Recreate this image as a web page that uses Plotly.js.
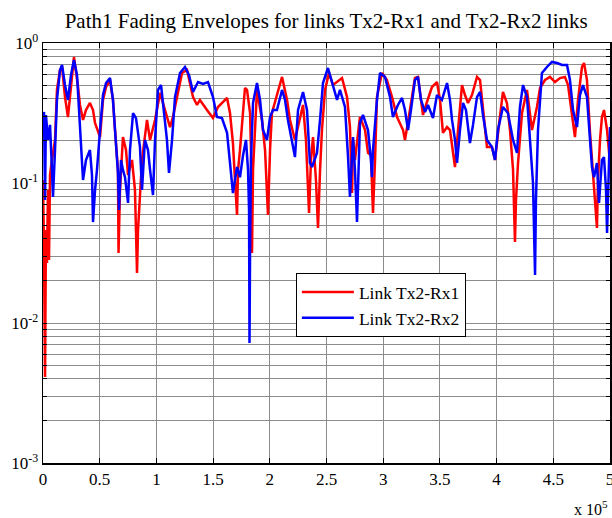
<!DOCTYPE html>
<html>
<head>
<meta charset="utf-8">
<script src="https://cdn.plot.ly/plotly-3.0.1.min.js"></script>
<style>html,body{margin:0;padding:0;background:#fff;}#chart{width:612px;height:518px;}</style>
</head>
<body>
<div id="chart"></div>
<script>
// x in units of 10^5 samples
const blueX = [0,0.009,0.018,0.026,0.044,0.062,0.079,0.088,0.106,0.123,0.150,0.168,0.194,0.220,0.247,0.273,0.300,0.326,0.353,0.379,0.414,0.432,0.441,0.459,0.476,0.503,0.529,0.556,0.591,0.617,0.635,0.661,0.670,0.688,0.705,0.723,0.750,0.767,0.794,0.820,0.855,0.873,0.899,0.926,0.944,0.970,0.988,1.014,1.041,1.067,1.093,1.111,1.138,1.164,1.208,1.252,1.287,1.323,1.367,1.411,1.455,1.499,1.534,1.578,1.623,1.649,1.675,1.693,1.711,1.737,1.764,1.790,1.808,1.817,1.821,1.826,1.834,1.852,1.887,1.914,1.940,1.975,2.002,2.028,2.063,2.108,2.134,2.160,2.196,2.222,2.249,2.293,2.328,2.354,2.372,2.416,2.443,2.469,2.513,2.557,2.593,2.619,2.663,2.690,2.707,2.734,2.751,2.769,2.787,2.795,2.822,2.866,2.892,2.901,2.910,2.945,2.972,3.016,3.060,3.086,3.130,3.166,3.192,3.219,3.245,3.280,3.307,3.333,3.369,3.395,3.439,3.474,3.518,3.563,3.589,3.607,3.633,3.651,3.677,3.704,3.730,3.765,3.792,3.827,3.854,3.880,3.915,3.959,3.986,4.012,4.056,4.100,4.145,4.180,4.206,4.233,4.268,4.294,4.321,4.339,4.347,4.365,4.383,4.400,4.444,4.488,4.533,4.577,4.621,4.647,4.674,4.709,4.735,4.762,4.797,4.824,4.841,4.859,4.885,4.903,4.912,4.929,4.947,4.965,4.974,4.982,5.000];
const blueY = [0.260,0.322,0.0756,0.306,0.203,0.260,0.124,0.0794,0.172,0.392,0.641,0.697,0.501,0.392,0.591,0.756,0.591,0.239,0.105,0.146,0.172,0.114,0.0526,0.0891,0.124,0.239,0.425,0.518,0.562,0.392,0.239,0.118,0.0642,0.146,0.124,0.110,0.0720,0.172,0.316,0.291,0.181,0.0891,0.203,0.172,0.124,0.0821,0.203,0.462,0.501,0.332,0.203,0.118,0.203,0.411,0.611,0.674,0.591,0.447,0.526,0.510,0.526,0.411,0.296,0.291,0.228,0.139,0.0848,0.105,0.130,0.110,0.158,0.203,0.124,0.0642,0.0072,0.0332,0.146,0.373,0.518,0.392,0.239,0.203,0.296,0.332,0.332,0.462,0.392,0.282,0.193,0.153,0.332,0.447,0.332,0.139,0.130,0.164,0.282,0.518,0.663,0.501,0.392,0.462,0.349,0.153,0.0794,0.213,0.124,0.0526,0.146,0.268,0.306,0.239,0.146,0.110,0.172,0.392,0.611,0.572,0.411,0.296,0.361,0.405,0.332,0.239,0.332,0.544,0.572,0.392,0.322,0.361,0.291,0.425,0.392,0.518,0.392,0.282,0.203,0.139,0.239,0.373,0.332,0.193,0.260,0.411,0.447,0.306,0.203,0.181,0.146,0.239,0.349,0.316,0.203,0.164,0.349,0.501,0.411,0.213,0.100,0.0220,0.0756,0.239,0.392,0.611,0.674,0.732,0.720,0.697,0.697,0.544,0.332,0.251,0.425,0.501,0.411,0.213,0.130,0.110,0.139,0.0720,0.0891,0.146,0.153,0.0891,0.0440,0.0756,0.251];
const redX = [0,0.009,0.018,0.026,0.035,0.044,0.053,0.062,0.079,0.106,0.123,0.150,0.168,0.194,0.220,0.247,0.273,0.309,0.326,0.353,0.379,0.414,0.441,0.459,0.503,0.529,0.556,0.591,0.617,0.635,0.661,0.666,0.679,0.705,0.732,0.750,0.785,0.811,0.829,0.838,0.855,0.873,0.917,0.944,0.988,1.032,1.076,1.120,1.146,1.182,1.226,1.270,1.323,1.358,1.384,1.446,1.499,1.543,1.578,1.623,1.649,1.675,1.693,1.711,1.720,1.737,1.781,1.799,1.826,1.834,1.843,1.852,1.887,1.931,1.958,1.984,2.002,2.019,2.063,2.108,2.152,2.178,2.222,2.249,2.293,2.319,2.346,2.363,2.381,2.407,2.425,2.443,2.460,2.487,2.522,2.557,2.593,2.637,2.681,2.707,2.725,2.734,2.751,2.795,2.840,2.866,2.892,2.910,2.928,2.945,2.989,3.033,3.078,3.122,3.175,3.192,3.236,3.280,3.307,3.333,3.351,3.386,3.430,3.474,3.501,3.527,3.563,3.589,3.633,3.660,3.695,3.721,3.748,3.783,3.827,3.854,3.880,3.915,3.959,3.986,4.021,4.056,4.091,4.118,4.145,4.162,4.171,4.189,4.224,4.268,4.312,4.356,4.383,4.427,4.471,4.515,4.559,4.603,4.630,4.665,4.691,4.718,4.753,4.771,4.797,4.824,4.850,4.868,4.885,4.894,4.912,4.929,4.947,4.974,5.000];
const redY = [0.105,0.0332,0.00411,0.0462,0.0268,0.0891,0.0282,0.114,0.146,0.203,0.462,0.641,0.674,0.411,0.296,0.501,0.794,0.485,0.361,0.282,0.332,0.373,0.332,0.268,0.213,0.392,0.485,0.544,0.392,0.239,0.124,0.0316,0.0891,0.213,0.172,0.114,0.146,0.0891,0.0228,0.0462,0.0756,0.146,0.282,0.203,0.282,0.440,0.332,0.251,0.296,0.411,0.611,0.641,0.411,0.361,0.392,0.332,0.291,0.349,0.373,0.405,0.316,0.193,0.105,0.0591,0.124,0.172,0.477,0.462,0.316,0.172,0.0316,0.124,0.462,0.282,0.172,0.0591,0.172,0.316,0.425,0.572,0.392,0.282,0.203,0.251,0.361,0.203,0.0611,0.146,0.213,0.105,0.0477,0.124,0.239,0.462,0.611,0.501,0.526,0.562,0.411,0.251,0.0848,0.203,0.146,0.296,0.239,0.164,0.158,0.0611,0.146,0.411,0.611,0.544,0.411,0.296,0.239,0.203,0.332,0.562,0.572,0.392,0.306,0.379,0.485,0.526,0.392,0.228,0.251,0.239,0.130,0.239,0.501,0.425,0.373,0.425,0.572,0.544,0.349,0.181,0.181,0.146,0.260,0.447,0.373,0.239,0.124,0.0379,0.0756,0.139,0.316,0.462,0.239,0.349,0.477,0.544,0.572,0.526,0.562,0.572,0.501,0.316,0.213,0.392,0.674,0.720,0.544,0.228,0.124,0.0756,0.0477,0.105,0.203,0.296,0.332,0.239,0.139];

const seriesNames = ['Link Tx2-Rx1', 'Link Tx2-Rx2'];
const xTickVals = [0,0.5,1,1.5,2,2.5,3,3.5,4,4.5,5];
const xTickText = ['0','0.5','1','1.5','2','2.5','3','3.5','4','4.5','5'];
const yTickVals = [0.001,0.002,0.003,0.004,0.005,0.006,0.007,0.008,0.009,
                   0.01,0.02,0.03,0.04,0.05,0.06,0.07,0.08,0.09,
                   0.1,0.2,0.3,0.4,0.5,0.6,0.7,0.8,0.9,1];
const yTickText = ['10<sup>-3</sup>','','','','','','','','',
                   '10<sup>-2</sup>','','','','','','','','',
                   '10<sup>-1</sup>','','','','','','','','',
                   '10<sup>0</sup>'];

const font = 'Liberation Serif, Times New Roman, serif';
const traces = [
  {x: redX, y: redY, name: seriesNames[0], type: 'scatter', mode: 'lines', line: {color: '#ff0000', width: 2.5}},
  {x: blueX, y: blueY, name: seriesNames[1], type: 'scatter', mode: 'lines', line: {color: '#0000ff', width: 2.5}}
];
const layout = {
  width: 612, height: 518,
  margin: {l: 43, r: 2, t: 43, b: 55},
  paper_bgcolor: '#fff', plot_bgcolor: '#fff',
  font: {family: font, size: 17, color: '#000'},
  title: {text: 'Path1 Fading Envelopes for links Tx2-Rx1 and Tx2-Rx2 links', font: {family: font, size: 21, color: '#000'}, x: 0.533, xanchor: 'center', y: 0.9595, yanchor: 'middle'},
  showlegend: true,
  legend: {x: 0.446, y: 0.452, xanchor: 'left', yanchor: 'top', bgcolor: '#fff', bordercolor: '#000', borderwidth: 1, font: {family: font, size: 17.5, color: '#000'}, itemwidth: 52, tracegroupgap: 0},
  xaxis: {
    range: [0, 5], tickvals: xTickVals, ticktext: xTickText,
    showline: true, linecolor: '#000', linewidth: 1.5, mirror: 'allticks',
    ticks: 'inside', ticklen: 5, tickcolor: '#000', ticklabeloverflow: 'allow',
    showgrid: true, gridcolor: '#8c8c8c', gridwidth: 1, zeroline: false,
    tickfont: {family: font, size: 17, color: '#000'}
  },
  yaxis: {
    type: 'log', range: [-3, 0], tickvals: yTickVals, ticktext: yTickText,
    showline: true, linecolor: '#000', linewidth: 1.5, mirror: 'allticks',
    ticks: 'inside', ticklen: 4, tickcolor: '#000', ticklabeloverflow: 'allow',
    showgrid: true, gridcolor: '#8c8c8c', gridwidth: 1, zeroline: false,
    tickfont: {family: font, size: 17, color: '#000'}
  },
  annotations: [{text: 'x 10<sup>5</sup>', xref: 'paper', yref: 'paper', x: 1.0, y: -0.108, xanchor: 'right', yanchor: 'middle', showarrow: false, font: {family: font, size: 16, color: '#000'}}]
};
Plotly.newPlot('chart', traces, layout, {displayModeBar: false, staticPlot: true});
</script>
</body>
</html>
